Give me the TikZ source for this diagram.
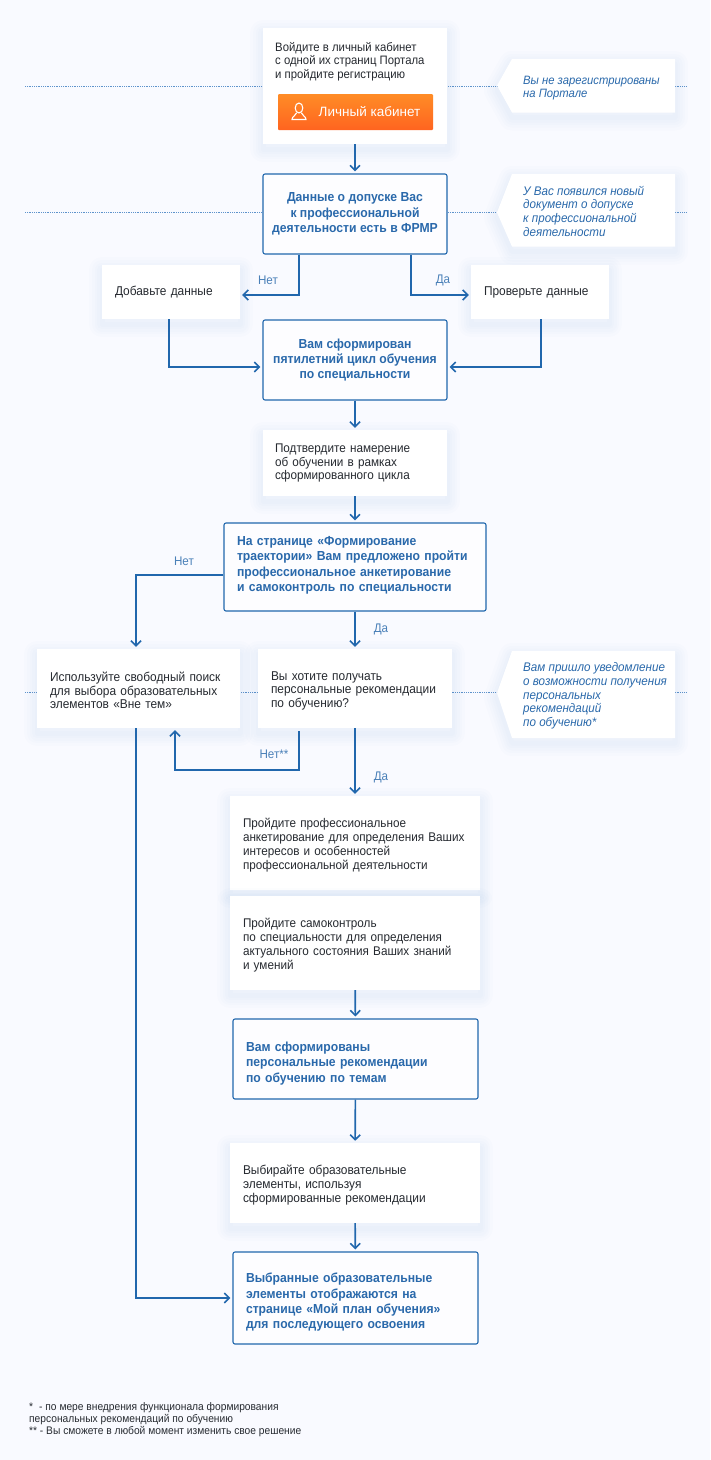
\documentclass[tikz,border=0pt]{standalone}
\usepackage{fontspec}
\setmainfont{Liberation Sans}[FakeStretch=0.93]
\newfontfamily\btnfont{Liberation Sans}
\usetikzlibrary{positioning,arrows.meta}
\definecolor{pagebg}{HTML}{F9FAFF}
\definecolor{flow}{HTML}{2167AD}
\definecolor{flowtxt}{HTML}{2A69AB}
\definecolor{bodytxt}{HTML}{262A30}
\definecolor{dots}{HTML}{5E93CC}
\definecolor{btntop}{HTML}{FF8C26}
\definecolor{btnbot}{HTML}{FF6420}
\tikzset{
  halo/.style = {preaction={draw=flow, line width=#1, line join=round, opacity=.010, transform canvas={yshift=-5pt}}},
  softshadow/.style = {halo=26pt, halo=20pt, halo=15pt, halo=10pt, halo=5pt},
  main/.style = {fill=white, align=left, inner xsep=13pt, inner ysep=0pt, text=bodytxt, font=\fontsize{12.8}{13.7}\selectfont, softshadow},
  low/.style = {execute at begin node={\rule{0pt}{13.5pt}}},
  key/.style = {draw=flow, line width=1.1pt, rounded corners=2pt, fill=pagebg!40!white, align=left, inner xsep=13pt, inner ysep=0pt, text=flowtxt, font=\fontsize{13.1}{15.3}\selectfont\bfseries},
  lowkey/.style = {key, execute at begin node={\rule{0pt}{18.5pt}}},
  hint/.style = {fill=white, softshadow},
  hinttxt/.style = {align=left, inner sep=0pt, text=flowtxt, font=\fontsize{12.5}{13.7}\selectfont\itshape},
  tag/.style = {inner sep=0pt, text=flowtxt!85!white, font=\fontsize{12.5}{14}\selectfont},
  arr/.style = {->, >={Straight Barb[length=5pt,width=10pt]}, line width=1.6pt, draw=flow, shorten >=2pt},
  level/.style = {draw=dots, line width=0.9pt, dash pattern=on 1pt off 0.8pt}
}
\begin{document}
\begin{tikzpicture}[x=1pt, y=-1pt]
  \useasboundingbox[fill=pagebg] (0,0) rectangle (710,1460);
  % dotted levels
  \coordinate (l1) at (25,86);
  \coordinate (r1) at (686,86);
  \coordinate (l2) at (25,212.5);
  \coordinate (r2) at (686,212.5);
  \coordinate (l3) at (25,692.5);
  \coordinate (r3) at (686,692.5);
  \draw[level] (l1) -- (r1);
  \draw[level] (l2) -- (r2);
  \draw[level] (l3) -- (r3);
  % side notes
  \fill[hint] (497,85.5) -- (512,59) -- (675,59) -- (675,112.5) -- (512,112.5) -- cycle;
  \fill[hint] (497,212.5) -- (512,174) -- (675,174) -- (675,246.5) -- (512,246.5) -- cycle;
  \fill[hint] (497,693) -- (512,651) -- (675,651) -- (675,738) -- (512,738) -- cycle;
  \node[hinttxt, anchor=west, font=\fontsize{12.1}{13.7}\selectfont\itshape] (note1) at (523,88) {Вы не зарегистрированы\\на Портале};
  \node[hinttxt, anchor=west] (note2) at (523,211) {У Вас появился новый\\документ о допуске\\к профессиональной\\деятельности};
  \node[hinttxt, anchor=west] (note3) at (523,696) {Вам пришло уведомление\\о возможности получения\\персональных\\рекомендаций\\по обучению*};
  % flow
  \node[main, minimum width=184pt, minimum height=116pt] (login) at (355,86) {};
  \node[anchor=north west, align=left, inner sep=0pt, text=bodytxt, font=\fontsize{12.2}{13.7}\selectfont] (logintxt) at (275,42) {Войдите в личный кабинет\\с одной их страниц Портала\\и пройдите регистрацию};
  \node[top color=btntop, bottom color=btnbot, rounded corners=1pt, minimum width=155pt, minimum height=36pt, inner sep=0pt] (btn) at (355.5,112) {};
  \node[inner sep=0pt, text=white, font=\btnfont\fontsize{13.5}{14}\selectfont] (btntxt) at (369.5,112) {Личный кабинет};
  \draw[white, line width=1.1pt] (299,108) ellipse (3.8pt and 5pt);
  \draw[white, line width=1.1pt, line cap=round] (296.5,113) .. controls (296,116) and (292,116) .. (292,119.5) -- (306,119.5) .. controls (306,116) and (302,116) .. (301.5,113);
  \node[lowkey, minimum width=184pt, minimum height=80pt, align=center, inner xsep=0pt] (frmr) [below of=login, node distance=128pt] {Данные о допуске Вас\\к профессиональной\\деятельности есть в ФРМР};
  \node[main, minimum width=138pt, minimum height=54pt, text width=112pt] (add) at (171,292) {Добавьте данные};
  \node[main, minimum width=138pt, minimum height=54pt, text width=112pt] (check) at (540,292) {Проверьте данные};
  \node[lowkey, minimum width=184pt, minimum height=80pt, align=center, inner xsep=0pt] (cycle) at (355,360) {Вам сформирован\\пятилетний цикл обучения\\по специальности};
  \node[main, minimum width=184pt, minimum height=66pt, text width=160pt, inner xsep=12pt, font=\fontsize{12.6}{13.7}\selectfont] (confirm) at (355,463) {Подтвердите намерение\\об обучении в рамках\\сформированного цикла};
  \node[key, minimum width=262pt, minimum height=88pt, text width=236pt, execute at end node={\rule[-6pt]{0pt}{0pt}}] (traj) at (355,567) {На странице «Формирование\\траектории» Вам предложено пройти\\профессиональное анкетирование\\и самоконтроль по специальности};
  \node[main, minimum width=203pt, minimum height=79pt, text width=177pt, low] (free) at (138.5,688.5) {Используйте свободный поиск\\для выбора образовательных\\элементов «Вне тем»};
  \node[main, minimum width=194pt, minimum height=79pt, text width=168pt, low] (want) at (355,688.5) {Вы хотите получать\\персональные рекомендации\\по обучению?};
  \node[main, minimum width=250pt, minimum height=94pt, text width=224pt, low, font=\fontsize{12.6}{13.7}\selectfont] (prof) at (355,843) {Пройдите профессиональное\\анкетирование для определения Ваших\\интересов и особенностей\\профессиональной деятельности};
  \node[main, minimum width=250pt, minimum height=94pt, text width=224pt, low, font=\fontsize{12.6}{13.7}\selectfont] (self) [below of=prof, node distance=100pt] {Пройдите самоконтроль\\по специальности для определения\\актуального состояния Ваших знаний\\и умений};
  \node[lowkey, minimum width=245pt, minimum height=80pt, text width=219pt] (recs) at (355.5,1059) {Вам сформированы\\персональные рекомендации\\по обучению по темам};
  \node[main, minimum width=250pt, minimum height=80pt, text width=224pt, low] (choose) at (355,1183) {Выбирайте образовательные\\элементы, используя\\сформированные рекомендации};
  \node[lowkey, minimum width=245pt, minimum height=92pt, text width=219pt] (result) at (355.5,1298) {Выбранные образовательные\\элементы отображаются на\\странице «Мой план обучения»\\для последующего освоения};
  % connectors
  \draw[arr] (login) -- (frmr);
  \draw[arr] ([xshift=-56pt]frmr.south) |- ([yshift=-3pt]add.east);
  \draw[arr] ([xshift=56pt]frmr.south) |- ([yshift=-3pt]check.west);
  \draw[arr] ([xshift=-2pt]add.south) |- ([yshift=-7pt]cycle.west);
  \draw[arr] ([xshift=1pt]check.south) |- ([yshift=-7pt]cycle.east);
  \draw[arr] (cycle) -- (confirm);
  \draw[arr] (confirm) -- (traj);
  \draw[arr] ([yshift=-8pt]traj.west) -| ([xshift=-2.5pt]free.north);
  \draw[arr] (traj) -- (want);
  \coordinate (back) at (175,770);
  \draw[arr] ([xshift=-56pt,yshift=-3pt]want.south) |- (back) -- ([xshift=36.5pt]free.south);
  \draw[arr] (want) -- (prof);
  \draw[arr] (self) -- (recs);
  \draw[arr] (recs) -- (choose);
  \draw[arr] (choose) -- (result);
  \draw[arr] ([xshift=-2.5pt]free.south) |- (result.west);
  % labels
  \node[tag] (no1) at (268,280) {Нет};
  \node[tag] (yes1) at (443,280) {Да};
  \node[tag] (no2) at (184,561) {Нет};
  \node[tag] (yes2) at (381,629) {Да};
  \node[tag] (no3) at (274,754) {Нет**};
  \node[tag] (yes3) at (381,777) {Да};
  % footnote
  \node[anchor=north west, align=left, inner sep=0pt, text=bodytxt, font=\fontsize{11}{12}\selectfont] (foot) at (29,1402.5) {*\hspace{6pt}- по мере внедрения функционала формирования\\персональных рекомендаций по обучению\\** - Вы сможете в любой момент изменить свое решение};
\end{tikzpicture}
\end{document}
